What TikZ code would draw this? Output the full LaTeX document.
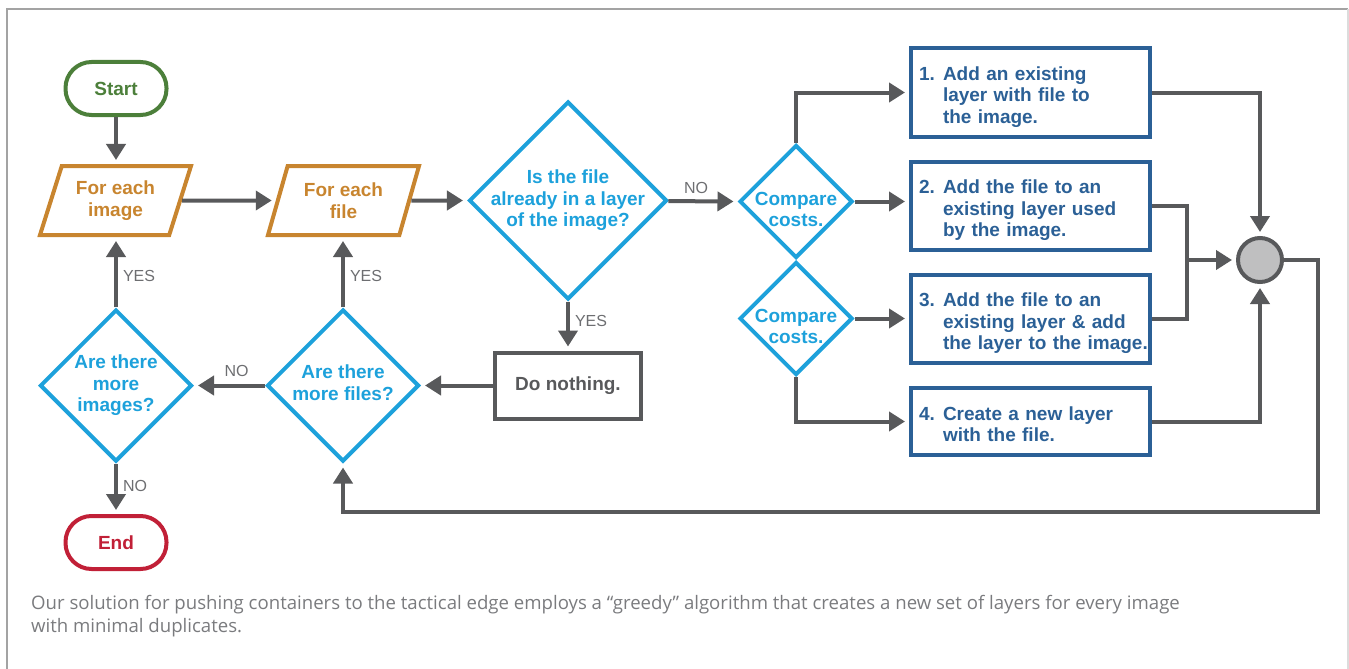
\documentclass[tikz,border=0pt]{standalone}
\usepackage{fontspec}
\setmainfont{Liberation Sans}
\newfontfamily\notefont{Open Sans}
\usepackage{xcolor}
\usetikzlibrary{shapes.geometric,arrows.meta}

\definecolor{startgreen}{HTML}{4C7F3A}
\definecolor{endred}{HTML}{C12037}
\definecolor{loopbrown}{HTML}{C8852F}
\definecolor{askblue}{HTML}{1DA1DB}
\definecolor{stepblue}{HTML}{2B6096}
\definecolor{flowgray}{HTML}{58595B}
\definecolor{notegray}{HTML}{6D6E71}
\definecolor{captiongray}{HTML}{7A7B7E}
\definecolor{mergegray}{HTML}{BFBFC0}
\definecolor{framegray}{HTML}{A3A3A3}
\definecolor{framelight}{HTML}{DCDCDC}

\newcommand{\choicebody}[1]{\raisebox{0pt}[\dimexpr\height+10pt\relax][\depth]{\begin{tabular}{@{}p{24pt}@{}l@{}}#1\end{tabular}}}

\begin{document}
\begin{tikzpicture}[x=1pt, y=-1pt,
            every node/.style={font=\fontsize{19}{21.5}\selectfont\bfseries},
            term/.style={rectangle, rounded corners=26pt, line width=4pt, minimum width=101pt, minimum height=53pt},
            loopio/.style={trapezium, trapezium left angle=61, trapezium right angle=119, trapezium stretches body,
                draw=loopbrown, text=loopbrown, line width=4pt, minimum width=151pt, minimum height=69pt, inner sep=0pt, align=center},
            ask/.style={diamond, draw=askblue, line width=4pt, inner sep=0pt, minimum width=#1, minimum height=#1},
            asktext/.style={text=askblue, align=center, inner sep=0pt},
            choice/.style={rectangle, draw=stepblue, text=stepblue, line width=4pt, minimum width=239pt, minimum height=#1,
                text width=223pt, align=left, inner xsep=8pt, inner ysep=0pt},
            flow/.style={draw=flowgray, line width=4pt, -{Triangle[length=16pt,width=19pt]}, shorten >=4pt},
            wire/.style={draw=flowgray, line width=4pt},
            answer/.style={font=\fontsize{16}{16}\selectfont, text=notegray, inner sep=0pt}]
        \useasboundingbox (0,0) rectangle (1349,669);
        \draw[framegray, line width=2pt] (6,9) -- (1348,9);
        \draw[framegray, line width=2pt] (7,9) -- (7,669);
        \draw[framelight, line width=2pt] (1348,9) -- (1348,669);

        \node[term, draw=startgreen, text=startgreen] (start) at (116,88.5) {Start};
        \node[loopio] (img) at (115.5,200.5) {For each\\image};
        \node[loopio] (file) at (343.5,200.5) {For each\\file};
        \node[ask=198pt, label={[asktext]center:{Is the file\\already in a layer\\of the image?}}] (isin) at (568,200.5) {};
        \node[ask=113pt, label={[asktext, yshift=-8pt]center:{Compare\\costs.}}] (cmp1) at (796,201.5) {};
        \node[ask=113pt, label={[asktext, yshift=-8pt]center:{Compare\\costs.}}] (cmp2) at (796,318.5) {};
        \node[rectangle, draw=flowgray, text=flowgray, line width=4pt, minimum width=146pt, minimum height=66pt] (nothing) at (568,385.5) {Do nothing.};
        \node[ask=152pt, label={[asktext, yshift=3pt]center:{Are there\\more files?}}] (moreq) at (343,385.5) {};
        \node[ask=152pt, label={[asktext]center:{Are there\\more\\images?}}] (imgq) at (116,385.5) {};
        \node[term, draw=endred, text=endred] (endn) at (116,542.5) {End};

        \node[choice=89pt] (box1) at (1030.5,92.5) {\choicebody{1. & Add an existing\\ & layer with file to\\ & the image.}};
        \node[choice=88pt] (box2) at (1030.5,206) {\choicebody{2. & Add the file to an\\ & existing layer used\\ & by the image.}};
        \node[choice=88pt] (box3) at (1030.5,319) {\choicebody{3. & Add the file to an\\ & existing layer \& add\\ & the layer to the image.}};
        \node[choice=67pt] (box4) at (1030.5,421.5) {\choicebody{4. & Create a new layer\\ & with the file.}};
        \node[circle, draw=flowgray, fill=mergegray, line width=4pt, minimum size=44pt, inner sep=0pt] (merge) at (1260,260) {};
        \coordinate (jn) at (1187,260);
        \coordinate (back) at (1318,512);

        \draw[flow] (start) -- (start |- img.north);
        \draw[flow] (img) -- (file);
        \draw[flow] (file) -- (isin);
        \draw[flow] (isin) -- node[answer, above=6pt, pos=0.4] {NO} (cmp1 -| cmp1.west);
        \draw[flow] (isin) -- node[answer, right=5pt, pos=0.4] {YES} (nothing);
        \draw[flow] (nothing) -- (moreq);
        \draw[flow] (moreq) -- node[answer, above=7pt, pos=0.4] {NO} (imgq);
        \draw[flow] (imgq) -- node[answer, right=5pt, pos=0.45] {NO} (endn);
        \draw[flow] (imgq) -- node[answer, right=5pt, pos=0.45] {YES} (imgq |- img.south);
        \draw[flow] (moreq) -- node[answer, right=5pt, pos=0.45] {YES} (moreq |- file.south);

        \draw[flow] (cmp1.north) |- (box1);
        \draw[flow] (cmp1) -- (cmp1 -| box2.west);
        \draw[flow] (cmp2) -- (cmp2 -| box3.west);
        \draw[flow] (cmp2.south) |- (box4);

        \draw[flow] (box1) -| (merge);
        \draw[wire] (box2) -| (jn) |- (box3);
        \draw[flow] (jn) -- (merge);
        \draw[flow] (box4) -| (merge);
        \draw[flow] (merge) -| (back) -| (moreq);

        \node[font=\notefont\fontsize{18.6}{23}\selectfont, text=captiongray, anchor=north west, align=left, inner sep=0pt] (note) at (31,595)
            {Our solution for pushing containers to the tactical edge employs a “greedy” algorithm that creates a new set of layers for every image\\with minimal duplicates.};
    \end{tikzpicture}
\end{document}
